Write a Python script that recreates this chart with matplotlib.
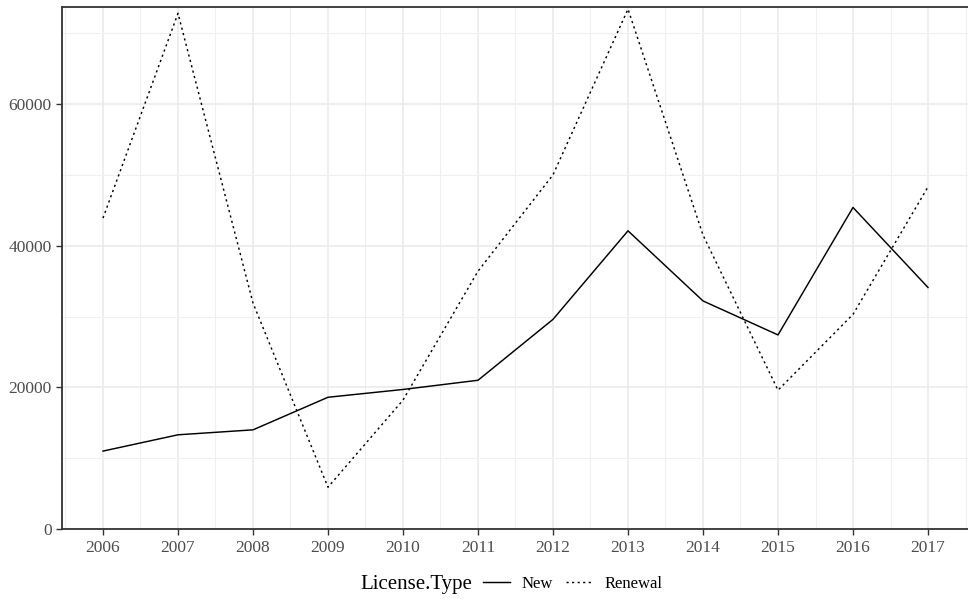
import matplotlib.pyplot as plt
from matplotlib.lines import Line2D
from matplotlib.ticker import MultipleLocator

plt.rcParams["font.family"] = ["Liberation Serif", "DejaVu Serif"]

years = [2006, 2007, 2008, 2009, 2010, 2011, 2012, 2013, 2014, 2015, 2016, 2017]
new_counts = [11000, 13300, 14000, 18600, 19700, 21000, 29600, 42100, 32200, 27400, 45400, 34100]
renewal_counts = [43900, 72800, 31900, 5900, 18200, 36400, 50000, 73400, 41500, 19600, 30300, 48300]

fig = plt.figure(figsize=(9.68, 6.03), dpi=100)
ax = fig.add_axes([62 / 968, 74 / 603, 906 / 968, 522 / 603])

ax.plot(years, new_counts, color="black", lw=1.05)
renewal_line, = ax.plot(years, renewal_counts, color="black", lw=1.05)
renewal_line.set_dashes((1.5, 2.3))

ax.set_xlim(2006 - 41 / 75, 2006 + 906 / 75 - 41 / 75)
ax.set_ylim(0, 73700)

ax.set_xticks(years)
ax.xaxis.set_minor_locator(MultipleLocator(0.5))
ax.yaxis.set_major_locator(MultipleLocator(20000))
ax.yaxis.set_minor_locator(MultipleLocator(10000))
ax.grid(which="major", color="#EBEBEB", lw=1.2)
ax.grid(which="minor", color="#EFEFEF", lw=0.8)
ax.set_axisbelow(True)

ax.tick_params(which="major", length=4, width=1, color="#333333",
               labelcolor="#4D4D4D", labelsize=12.5)
ax.tick_params(which="minor", length=0)
ax.tick_params(axis="x", pad=4)

for side in ["left", "bottom", "top"]:
    ax.spines[side].set_color("#333333")
    ax.spines[side].set_linewidth(1.3)
ax.spines["right"].set_visible(False)

# legend at the bottom, title to the left like ggplot
fig.text(360 / 968, 1 - 584 / 603, "License.Type", fontsize=15,
         ha="left", va="center")
handles = [Line2D([], [], color="black", lw=1.05),
           Line2D([], [], color="black", lw=1.05, dashes=(1.5, 2.3))]
fig.legend(handles, ["New", "Renewal"], loc="center left",
           bbox_to_anchor=(483 / 968, 1 - 584 / 603), ncol=2, frameon=False,
           fontsize=12, handlelength=1.6, handletextpad=0.7,
           columnspacing=0.8, borderaxespad=0, borderpad=0)

fig.savefig("out.png", dpi=100)
